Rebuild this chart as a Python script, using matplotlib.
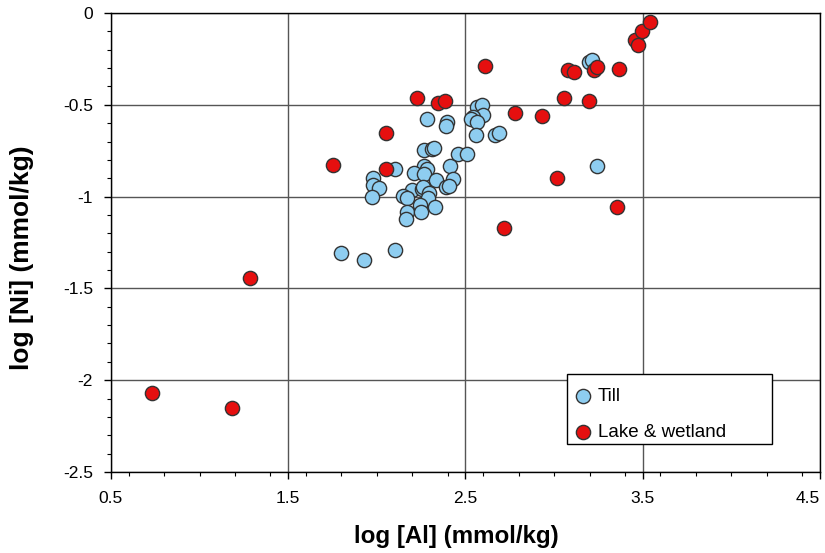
"""
Scatter of log Ni against log Al for till and lake/wetland samples.
"""

import matplotlib
matplotlib.use('Agg')
import matplotlib.pyplot as plt
from matplotlib.patches import Rectangle
from matplotlib.ticker import MultipleLocator


TILL_AL = [
    2.283, 2.396, 2.390, 2.565, 2.593, 2.599, 2.542, 2.531, 2.565,
    2.559, 2.666, 2.689, 2.266, 2.311, 2.322, 2.458, 2.508,
    2.102, 2.266, 2.283, 2.413, 2.209, 2.266, 2.334, 2.429, 2.390, 2.407,
    1.978, 1.978, 2.012, 1.972, 2.198, 2.255, 2.260, 2.294,
    2.147, 2.170, 2.288, 2.243, 2.328, 2.170, 2.164, 2.249,
    2.102, 1.927, 1.798, 3.197, 3.214, 3.242,
]
TILL_NI = [
    -0.580, -0.596, -0.618, -0.514, -0.503, -0.558, -0.569, -0.580, -0.591,
    -0.667, -0.667, -0.651, -0.744, -0.739, -0.733, -0.766, -0.766,
    -0.848, -0.832, -0.848, -0.832, -0.870, -0.875, -0.908, -0.903, -0.946, -0.941,
    -0.897, -0.935, -0.952, -1.001, -0.963, -0.957, -0.946, -0.979,
    -0.996, -1.007, -1.007, -1.045, -1.056, -1.083, -1.121, -1.083,
    -1.291, -1.346, -1.307, -0.268, -0.257, -0.832,
]

LAKE_AL = [
    0.731, 1.183, 1.284, 1.752, 2.051, 2.051, 2.226, 2.345, 2.384,
    2.610, 2.779, 2.932, 3.016, 3.056, 3.078, 3.112, 3.197, 3.225,
    3.242, 3.366, 3.355, 3.456, 3.473, 3.496, 3.541, 2.717,
]
LAKE_NI = [
    -2.068, -2.150, -1.444, -0.826, -0.656, -0.848, -0.465, -0.492, -0.481,
    -0.290, -0.542, -0.563, -0.897, -0.465, -0.312, -0.323, -0.481, -0.312,
    -0.295, -0.306, -1.056, -0.148, -0.175, -0.098, -0.049, -1.171,
]

X_TICKS = [0.5, 1.5, 2.5, 3.5, 4.5]
X_TICK_LABELS = ['0.5', '1.5', '2.5', '3.5', '4.5']
Y_TICKS = [-2.5, -2, -1.5, -1, -0.5, 0]
Y_TICK_LABELS = ['-2.5', '-2', '-1.5', '-1', '-0.5', '0']


def main():

    plt.rcParams['font.family'] = ['Liberation Sans', 'DejaVu Sans']

    fig = plt.figure(figsize=(8.25, 5.53), dpi=100)
    ax = fig.add_axes([0.1345, 0.1465, 0.8594, 0.8300])

    ax.scatter(TILL_AL, TILL_NI, s=105, c='#8ECDF0', edgecolors='#333333',
               linewidths=1.0, label='Till', zorder=3)
    ax.scatter(LAKE_AL, LAKE_NI, s=105, c='#E60F0F', edgecolors='#333333',
               linewidths=1.0, label='Lake & wetland', zorder=3)

    ax.set_xlim(0.5, 4.5)
    ax.set_ylim(-2.5, 0)
    ax.set_xticks(X_TICKS)
    ax.set_xticklabels(X_TICK_LABELS)
    ax.set_yticks(Y_TICKS)
    ax.set_yticklabels(Y_TICK_LABELS)
    ax.xaxis.set_minor_locator(MultipleLocator(0.2))
    ax.yaxis.set_minor_locator(MultipleLocator(0.1))
    ax.tick_params(which='major', direction='out', length=5, width=1,
                   labelsize=12.5, colors='black')
    ax.tick_params(axis='x', which='major', pad=9)
    ax.tick_params(axis='y', which='major', pad=8)
    ax.tick_params(which='minor', direction='out', length=3, width=0.8)
    # last x label sits against the right edge, as in the original
    ax.get_xticklabels()[-1].set_horizontalalignment('right')
    ax.grid(True, which='major', color='#555555', linewidth=1.0, zorder=0)
    ax.set_axisbelow(True)
    for spine in ax.spines.values():
        spine.set_linewidth(1.0)

    ax.set_xlabel('log [Al] (mmol/kg)', fontsize=17.4, fontweight='bold',
                  va='center')
    ax.xaxis.set_label_coords(0.4866, -0.1416)
    ax.set_ylabel('log [Ni] (mmol/kg)', fontsize=19, fontweight='bold',
                  va='center')
    ax.yaxis.set_label_coords(-0.1255, 0.466)

    # legend frame drawn separately so the entries can sit lower in the box
    frame = Rectangle((0.643, 0.061), 0.289, 0.152, transform=ax.transAxes,
                      facecolor='white', edgecolor='black', linewidth=1.0,
                      zorder=4)
    ax.add_patch(frame)
    leg = ax.legend(loc='upper left', bbox_to_anchor=(0.643, 0.2026),
                    fontsize=13.5, frameon=False, borderaxespad=0,
                    handletextpad=0.4, labelspacing=1.05, borderpad=0.45,
                    handlelength=0.8)
    leg.set_zorder(5)

    fig.savefig('out.png', dpi=100)


if __name__ == '__main__':
    main()
